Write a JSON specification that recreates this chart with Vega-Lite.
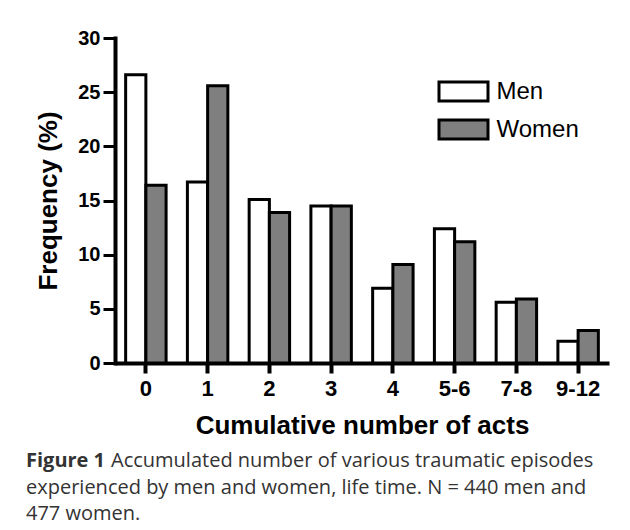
{
  "$schema": "https://vega.github.io/schema/vega-lite/v6.json",
  "width": 494,
  "height": 325,
  "autosize": {"type": "none"},
  "padding": {"left": 115, "top": 38, "right": 21, "bottom": 167},
  "background": "white",
  "data": {
    "values": [
      {"acts": "0", "sex": "Men", "freq": 26.6},
      {"acts": "0", "sex": "Women", "freq": 16.4},
      {"acts": "1", "sex": "Men", "freq": 16.7},
      {"acts": "1", "sex": "Women", "freq": 25.6},
      {"acts": "2", "sex": "Men", "freq": 15.1},
      {"acts": "2", "sex": "Women", "freq": 13.9},
      {"acts": "3", "sex": "Men", "freq": 14.5},
      {"acts": "3", "sex": "Women", "freq": 14.5},
      {"acts": "4", "sex": "Men", "freq": 6.9},
      {"acts": "4", "sex": "Women", "freq": 9.1},
      {"acts": "5-6", "sex": "Men", "freq": 12.4},
      {"acts": "5-6", "sex": "Women", "freq": 11.2},
      {"acts": "7-8", "sex": "Men", "freq": 5.6},
      {"acts": "7-8", "sex": "Women", "freq": 5.9},
      {"acts": "9-12", "sex": "Men", "freq": 2.0},
      {"acts": "9-12", "sex": "Women", "freq": 3.0}
    ]
  },
  "mark": {"type": "bar", "stroke": "black", "strokeWidth": 3, "opacity": 1},
  "encoding": {
    "x": {
      "field": "acts",
      "type": "nominal",
      "sort": null,
      "title": "Cumulative number of acts",
      "scale": {"paddingInner": 0.345, "paddingOuter": 0.1725},
      "axis": {
        "bandPosition": 0.5,
        "labelAngle": 0,
        "domainColor": "black",
        "domainWidth": 4,
        "tickColor": "black",
        "tickWidth": 4,
        "tickSize": 10,
        "labelFont": "Liberation Sans",
        "labelFontWeight": "bold",
        "labelFontSize": 22,
        "labelColor": "black",
        "labelPadding": 5,
        "titleFont": "Liberation Sans",
        "titleFontWeight": "bold",
        "titleFontSize": 26,
        "titleColor": "black",
        "titlePadding": 13,
        "grid": false
      }
    },
    "xOffset": {
      "field": "sex",
      "type": "nominal",
      "sort": ["Men", "Women"],
      "scale": {"paddingInner": 0, "paddingOuter": 0}
    },
    "y": {
      "field": "freq",
      "type": "quantitative",
      "title": "Frequency (%)",
      "scale": {"domain": [0, 30], "nice": false},
      "axis": {
        "values": [0, 5, 10, 15, 20, 25, 30],
        "domainColor": "black",
        "domainWidth": 4,
        "domainCap": "square",
        "tickColor": "black",
        "tickWidth": 3,
        "tickSize": 12,
        "labelFont": "Liberation Sans",
        "labelFontWeight": "bold",
        "labelFontSize": 20,
        "labelColor": "black",
        "labelPadding": 3,
        "titleFont": "Liberation Sans",
        "titleFontWeight": "bold",
        "titleFontSize": 26,
        "titleColor": "black",
        "titlePadding": 16,
        "grid": false
      }
    },
    "fill": {
      "field": "sex",
      "type": "nominal",
      "scale": {"domain": ["Men", "Women"], "range": ["#ffffff", "#7f7f7f"]},
      "legend": {
        "orient": "none",
        "legendX": 324,
        "legendY": 41.5,
        "title": null,
        "padding": 0,
        "symbolType": "M-2.45,-0.95H2.45V0.95H-2.45Z",
        "symbolSize": 400,
        "symbolStrokeColor": "black",
        "symbolStrokeWidth": 3,
        "symbolOpacity": 1,
        "symbolOffset": 12.5,
        "labelOffset": 21,
        "labelFont": "Liberation Sans",
        "labelFontSize": 24,
        "labelColor": "black",
        "rowPadding": 6
      }
    }
  },
  "title": {
    "text": "Figure 1",
    "subtitle": [
      "\u200b\u2003\u2003\u2003\u2003\u2005Accumulated number of various traumatic episodes",
      "experienced by men and women, life time. N = 440 men and",
      "477 women."
    ],
    "orient": "bottom",
    "anchor": "start",
    "frame": "group",
    "dx": -89,
    "offset": 13,
    "font": "Open Sans",
    "fontSize": 20,
    "fontWeight": "bold",
    "color": "#333333",
    "subtitleFont": "Open Sans",
    "subtitleFontSize": 20,
    "subtitleFontWeight": "normal",
    "subtitleColor": "#333333",
    "subtitleLineHeight": 26.5,
    "subtitlePadding": -20
  },
  "config": {"view": {"stroke": null}}
}
